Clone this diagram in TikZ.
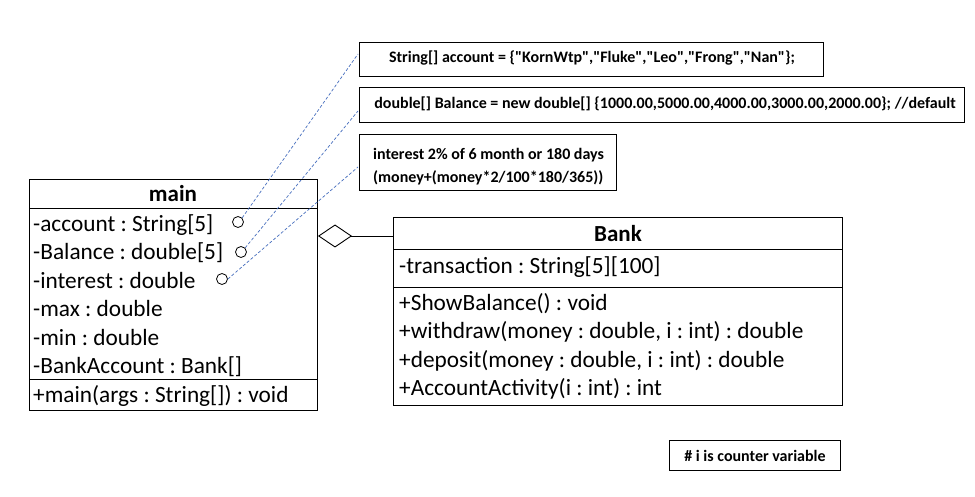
\documentclass[tikz,border=0pt]{standalone}
\usepackage{fontspec}
\setmainfont{Carlito}[Ligatures=TeXOff]
\usetikzlibrary{arrows.meta}
\definecolor{dashblue}{RGB}{70,110,190}
\frenchspacing
\tikzset{
  box/.style={draw=black, line width=0.9pt, anchor=north west, inner sep=0pt},
  row/.style={anchor=base west, inner sep=0pt, font=\fontsize{23.3}{28}\selectfont\frenchspacing},
  ttl/.style={anchor=base, inner sep=0pt, font=\fontsize{23}{28}\selectfont\bfseries},
  notebox/.style={draw=black, line width=0.9pt, anchor=north west, inner sep=0pt},
  notetext/.style={anchor=base, inner sep=0pt, font=\fontsize{16}{23}\selectfont\bfseries\frenchspacing},
  pin/.style={draw=black, circle, line width=0.8pt, minimum size=11pt, inner sep=0pt},
  link/.style={dashblue, line width=0.7pt, dash pattern=on 3pt off 2pt},
  divider/.style={line width=0.9pt}
}
\begin{document}
\begin{tikzpicture}[x=1pt,y=-1pt]
\useasboundingbox[fill=white] (0,0) rectangle (975,497);

% main class
\node[box, minimum width=288pt, minimum height=231pt] (mainbox) at (29,179) {};
\draw[divider] (29,208) -- (317,208);
\draw[divider] (29,379) -- (317,379);
\node[ttl] (maint) at (173,202) {main};
\node[row] (ma1) at (33,232) {-account : String[5]};
\node[row] (ma2) at (33,260) {-Balance : double[5]};
\node[row] (ma3) at (33,288) {-interest : double};
\node[row] (ma4) at (33,316.5) {-max : double};
\node[row] (ma5) at (33,345) {-min : double};
\node[row] (ma6) at (33,373) {-BankAccount : Bank[]};
\node[row] (mm1) at (33,402.5) {+main(args : String[]) : void};

% Bank class
\node[box, minimum width=449pt, minimum height=188pt] (bankbox) at (393,217) {};
\draw[divider] (393,249) -- (842,249);
\draw[divider] (393,287) -- (842,287);
\node[ttl] (bankt) at (618,242) {Bank};
\node[row] (ba1) at (399,274) {-transaction : String[5][100]};
\node[row] (bm1) at (399,310) {+ShowBalance() : void};
\node[row] (bm2) at (399,338) {+withdraw(money : double, i : int) : double};
\node[row] (bm3) at (399,367) {+deposit(money : double, i : int) : double};
\node[row] (bm4) at (399,395) {+AccountActivity(i : int) : int};

% aggregation
\coordinate (aggR) at (393,236);
\coordinate (aggL) at (318,236);
\draw[line width=0.9pt, -{Diamond[open, length=34pt, width=23pt, line width=0.9pt]}] (aggR) -- (aggL);

% notes
\node[notebox, minimum width=464pt, minimum height=34pt] (n1) at (359,42) {};
\node[notetext] (t1) at (592,63) {String[] account = \{"KornWtp","Fluke","Leo","Frong","Nan"\};};
\node[notebox, minimum width=605pt, minimum height=35pt] (n2) at (359,87) {};
\node[notetext] (t2) at (665,109) {double[] Balance = new double[] \{1000.00,5000.00,4000.00,3000.00,2000.00\}; //default};
\node[notebox, minimum width=257pt, minimum height=56pt] (n3) at (359,134) {};
\node[notetext, anchor=base west] (t3a) at (373,160) {interest 2\% of 6 month or 180 days};
\node[notetext, anchor=base west] (t3b) at (373,183) {(money+(money*2/100*180/365))};
\node[notebox, minimum width=171pt, minimum height=30pt] (n4) at (669,440) {};
\node[notetext] (t4) at (755,461) {\# i is counter variable};

% pins
\node[pin] (p1) at (238,222) {};
\node[pin] (p2) at (241,252) {};
\node[pin] (p3) at (222,279) {};
\coordinate (e1) at (358,54);
\coordinate (e2) at (358,111);
\coordinate (e3) at (358,167);
\draw[link] (p1.north east) -- (e1);
\draw[link] (p2.north east) -- (e2);
\draw[link] (p3.east) -- (e3);
\end{tikzpicture}
\end{document}
